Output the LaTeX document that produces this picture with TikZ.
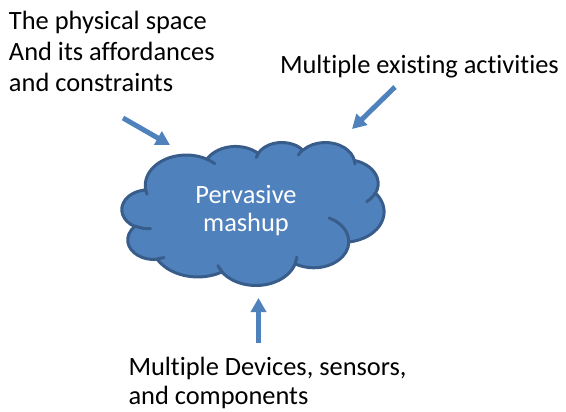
\documentclass[tikz,border=0pt]{standalone}
\usepackage{fontspec}
\setmainfont{Carlito}[Ligatures=NoCommon]
\usetikzlibrary{arrows.meta}
\definecolor{cloudfill}{HTML}{4F81BD}
\definecolor{cloudline}{HTML}{385D8A}
\definecolor{arrowblue}{HTML}{4F81BD}
\tikzset{
  ca/.style n args={4}{x radius=#1pt, y radius=#2pt,
    start angle={vp(#3,#1/#2)}, end angle={vp(#3+#4,#1/#2)}},
  lbl/.style={inner sep=0pt, outer sep=0pt, text=black},
  bluearrow/.style={draw=arrowblue, line width=5pt,
    -{Triangle[length=14pt,width=15pt]}},
}
\begin{document}
\begin{tikzpicture}[x=1pt,y=-1pt,
  declare function={vp(\a,\r)=atan(tan(\a-180*round(\a/180))*\r)+180*round(\a/180);}]
\useasboundingbox (0,0) rectangle (566,412);

% cloud (Office cloud geometry, path units / 10)
\begin{scope}[shift={(122pt,-142pt)}, xscale=262/4320, yscale=-143/4320]
\path[draw=cloudline, fill=cloudfill, line width=3pt, line join=round]
  (390pt,1437pt)
  arc[ca={675.3}{919.0}{-190.4875}{123.7805}]
  arc[ca={533.3}{726.7}{-144.1024}{89.9452}]
  arc[ca={436.5}{594.5}{-145.8079}{99.7230}]
  arc[ca={485.7}{659.5}{-130.9861}{117.2417}]
  arc[ca={533.3}{727.3}{-78.7089}{109.0269}]
  arc[ca={677.5}{922.0}{-46.2673}{130.2690}]
  arc[ca={578.5}{786.7}{0.6250}{114.0333}]
  arc[ca={675.2}{921.5}{22.4516}{115.1726}]
  arc[ca={772.0}{1054.3}{66.2426}{75.7110}]
  arc[ca={436.0}{591.8}{-274.9421}{146.7356}]
  arc[ca={434.5}{594.5}{-246.8285}{152.5189}]
  -- cycle;
\draw[cloudline, line width=3pt, line cap=round]
  (469.3pt,2617.7pt) arc[ca={434.5}{594.5}{86.742}{26.4295}]
  (692.8pt,3489.9pt) arc[ca={436.0}{591.8}{73.6105}{11.4475}]
  (1647.8pt,3909.0pt) arc[ca={675.2}{921.5}{137.6242}{14.0811}]
  (2882.7pt,3475.1pt) arc[ca={675.2}{921.5}{6.4533}{15.9984}]
  (3412.9pt,2295.4pt) arc[ca={578.5}{786.7}{-70.2924}{70.9174}]
  (4179.8pt,1535.4pt) arc[ca={533.3}{727.3}{30.3180}{27.7515}]
  (3832.4pt,542.6pt) arc[ca={485.7}{659.5}{-13.7443}{14.8589}]
  (2907.8pt,395.2pt) arc[ca={485.7}{659.5}{-149.1815}{18.1954}]
  (2214.1pt,472.0pt) arc[ca={436.5}{594.5}{-163.4943}{17.6864}]
  (1400.0pt,519.2pt) arc[ca={675.3}{919.0}{-66.7070}{12.3194}]
  (412.7pt,1578.9pt) arc[ca={675.3}{919.0}{157.6544}{11.8582}];
\end{scope}

\node[lbl, text=white, anchor=base, align=center,
  font=\fontsize{26.4}{28.4}\selectfont] (mash) at (246,231.7) {Pervasive\\mashup};

\node[lbl, anchor=base west, align=left,
  font=\fontsize{26.4}{31.2}\selectfont] (phys) at (9,91.7)
  {The physical space\\And its affordances\\and constraints};
\node[lbl, anchor=base west,
  font=\fontsize{26.4}{31.2}\selectfont] (acts) at (280,73.3)
  {Multiple existing activities};
\node[lbl, anchor=base west, align=left,
  font=\fontsize{26.4}{28.4}\selectfont] (devs) at (128.5,404)
  {Multiple Devices, sensors,\\and components};

\coordinate (a1s) at (123,118);
\coordinate (a1e) at (170,145);
\coordinate (a2s) at (395,87);
\coordinate (a2e) at (352,129);
\coordinate (a3s) at (258.5,343);
\coordinate (a3e) at (258.5,298);
\draw[bluearrow] (a1s) -- (a1e);
\draw[bluearrow] (a2s) -- (a2e);
\draw[bluearrow] (a3s) -- (a3e);
\end{tikzpicture}
\end{document}
